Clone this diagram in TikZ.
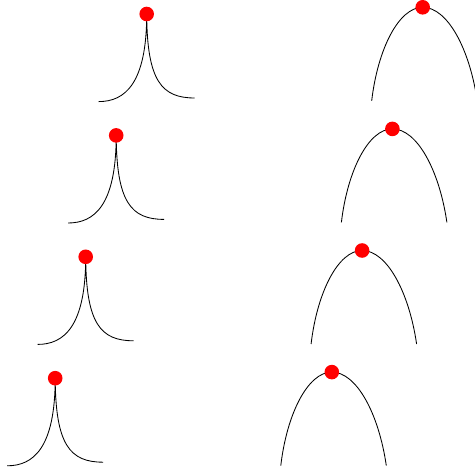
\documentclass[tikz,border=0pt]{standalone}
\usetikzlibrary{calc}
\begin{document}
\begin{tikzpicture}[x=1pt,y=-1pt,
  curveline/.style={draw=black,line width=0.85pt},
  reddot/.style={circle,fill=red,draw=none,inner sep=0pt,minimum size=14.6pt}]
\useasboundingbox (0,0) rectangle (475,470);
\clip (0,0) rectangle (475,470);
\foreach \i in {0,1,2,3}{
  \pgfmathsetmacro{\cx}{146.7-30.5*\i}
  \pgfmathsetmacro{\cy}{14+121.4*\i}
  \pgfmathsetmacro{\ax}{422.7-30.3*\i}
  \pgfmathsetmacro{\ay}{7.3+121.6*\i}
  % cusp
  \coordinate (cT\i) at (\cx,\cy);
  \coordinate (cL\i) at ($(\cx,\cy)+(-48,87.6)$);
  \coordinate (cR\i) at ($(\cx,\cy)+(48,84)$);
  \draw[curveline] (cL\i) .. controls +(26,0) and +(0,70) .. (cT\i)
                          .. controls +(0.3,67) and +(-33,0) .. (cR\i);
  \node[reddot] (cD\i) at (cT\i) {};
  % arch
  \coordinate (aT\i) at (\ax,\ay);
  \coordinate (aL\i) at ($(\ax,\ay)+(-51,93.5)$);
  \coordinate (aR\i) at ($(\ax,\ay)+(54.5,93.5)$);
  \draw[curveline] (aL\i) .. controls +(6,-51.5) and +(-24,0) .. (aT\i)
                          .. controls +(25,0) and +(-7.5,-51.5) .. (aR\i);
  \node[reddot] (aD\i) at (aT\i) {};
}
\end{tikzpicture}
\end{document}
